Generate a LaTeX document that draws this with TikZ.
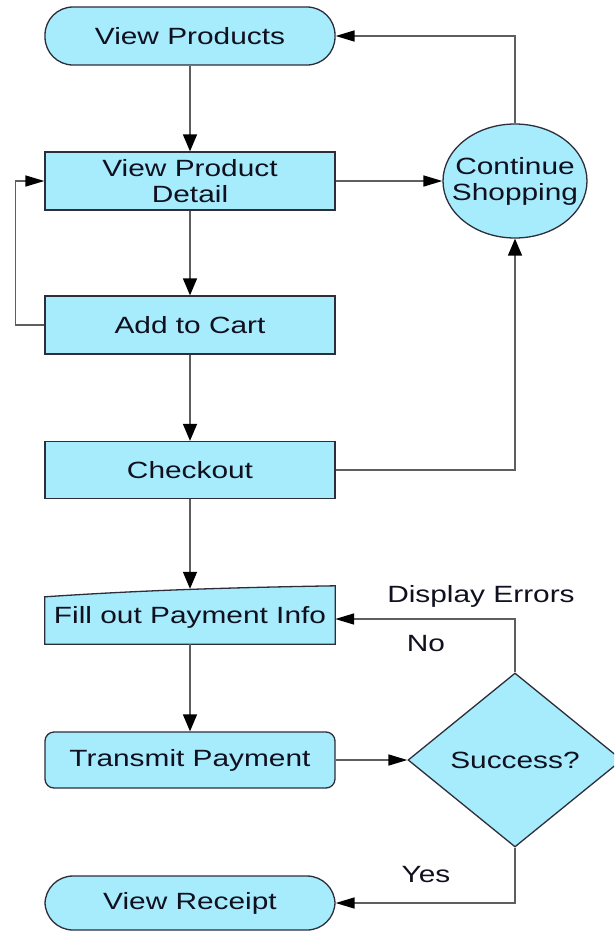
\documentclass[tikz,border=0pt]{standalone}
\usepackage{fontspec}
\setmainfont{Liberation Sans}[FakeStretch=1.27]
\usetikzlibrary{arrows.meta,shapes.geometric}
\definecolor{boxfill}{HTML}{A6ECFC}
\definecolor{edgec}{HTML}{2E2E3A}
\definecolor{linec}{HTML}{5E5E5E}
\definecolor{txtc}{HTML}{10101F}
\newcommand\lblfont{\fontsize{23.5pt}{26pt}\selectfont}
\tikzset{
  shapebase/.style={draw=edgec, line width=1.3pt, fill=boxfill, inner sep=0pt,
                    font=\lblfont, text=txtc, align=center},
  stepbox/.style={shapebase, rectangle, minimum width=290pt},
  termbox/.style={stepbox, rounded corners=28pt},
  altbox/.style={stepbox, rounded corners=9pt},
  decide/.style={shapebase, diamond, minimum width=214pt, minimum height=174pt},
  bubble/.style={shapebase, ellipse, minimum width=144pt, minimum height=114pt},
  caption/.style={font=\lblfont, text=txtc, inner sep=0pt, align=center},
  conn/.style={draw=linec, line width=1.6pt},
  varr/.style={conn, -{Triangle[length=17pt,width=14pt,color=black]}},
  harr/.style={conn, -{Triangle[length=19pt,width=11pt,color=black]}},
}
\begin{document}
\begin{tikzpicture}[x=1pt,y=-1pt]
\clip (0,0) rectangle (614,932);
\fill[white] (0,0) rectangle (614,932);

% main column
\node[termbox, minimum height=58pt] (vp)   at (190,36)  {View Products};
\node[stepbox, minimum height=58pt] (vpd)  at (190,181) {View Product\\Detail};
\node[stepbox, minimum height=58pt] (cart) at (190,325) {Add to Cart};
\node[stepbox, minimum height=57pt] (chk)  at (190,470) {Checkout};
% manual-input step: sloping, slightly wavy top edge
\node[minimum width=290pt, minimum height=54pt, inner sep=0pt] (fill) at (190,617) {};
\filldraw[fill=boxfill, draw=edgec, line width=1.3pt] ([yshift=-7pt]fill.north west)
   .. controls ([xshift=90pt,yshift=-1pt]fill.north west) and ([xshift=-120pt,yshift=2pt]fill.north east)
   .. ([yshift=4pt]fill.north east) -- (fill.south east) -- (fill.south west) -- cycle;
\node[caption] (filltext) at (fill.center) {Fill out Payment Info};
\node[altbox, minimum height=56pt] (tp) at (190,760) {Transmit Payment};
\node[termbox, minimum height=54pt] (vr) at (190,903) {View Receipt};

% right column
\node[bubble] (cs) at (515,181) {};
\node[caption] (cstext) at (cs.center) {Continue\\Shopping};
\node[decide] (succ) at (515,760) {Success?};

% labels on the decision branches
\node[caption] (lde)  at (481,596) {Display Errors};
\node[caption] (lno)  at (426,644) {No};
\node[caption] (lyes) at (426,875) {Yes};

% connectors
\draw[varr] (vp) -- (vpd);
\draw[harr] (vpd.east) -- (cs.west);
\draw[harr] (cs.north) |- (vp.east);
\draw[varr] (vpd) -- (cart);
\draw[harr] (cart.west) -- ++(-29,0) |- (vpd.west);
\draw[varr] (cart) -- (chk);
\draw[varr] (chk.east) -| (cs.south);
\draw[varr] (chk.south) -- ([yshift=1pt]fill.north);
\draw[varr] (fill.south) -- (tp.north);
\draw[harr] (tp.east) -- (succ.west);
\draw[harr] (succ.north) |- ([yshift=-2pt]fill.east);
\draw[harr] (succ.south) |- (vr.east);
\end{tikzpicture}
\end{document}
